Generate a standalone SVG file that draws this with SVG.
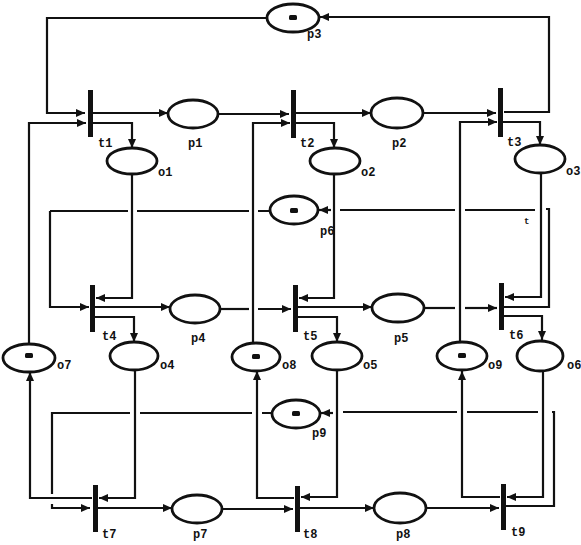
<svg xmlns="http://www.w3.org/2000/svg" width="581" height="545" viewBox="0 0 581 545">
<defs>
<marker id="ah" markerWidth="9" markerHeight="8" refX="9" refY="4" orient="auto" markerUnits="userSpaceOnUse"><path d="M0,0 L9,4 L0,8 Z" fill="#111"/></marker>
<style>
.pl{fill:#fff;stroke:#111;stroke-width:2.8}
.tr{fill:#111}
.tk{fill:#111}
.c path{fill:none;stroke:#111;stroke-width:2.2}
.a{marker-end:url(#ah)}
text{font-family:"Liberation Mono","DejaVu Sans Mono",monospace;font-weight:bold;font-size:12px;fill:#111}
</style>
</defs>
<rect width="581" height="545" fill="#fff"/>
<g id="connectors" class="c">
<path class="a" d="M267,18 H47 V113 H85"/>
<path class="a" d="M504,112 H549 V17 H320"/>
<path class="a" d="M93,113 H168"/>
<path class="a" d="M93,123 H132 V148"/>
<path class="a" d="M29,344 V123 H86"/>
<path class="a" d="M218,114 H289"/>
<path class="a" d="M253,343 V123 H290"/>
<path class="a" d="M296,113 H371"/>
<path class="a" d="M296,123 H334 V148"/>
<path class="a" d="M423,113 H496"/>
<path class="a" d="M460,342 V122 H497"/>
<path class="a" d="M503,122 H540 V145"/>
<path class="a" d="M132,174 V298 H96"/>
<path d="M270,211 H258 M249,211 H137 M128,211 H50"/>
<path class="a" d="M50,211 V307 H89"/>
<path class="a" d="M95,307 H170"/>
<path class="a" d="M95,317 H134 V342"/>
<path d="M220,309 H249"/>
<path class="a" d="M258,309 H291"/>
<path class="a" d="M334,174 V298 H299"/>
<path class="a" d="M298,307 H372"/>
<path class="a" d="M298,317 H337 V342"/>
<path d="M424,308 H455"/>
<path class="a" d="M465,308 H497"/>
<path class="a" d="M541,173 V297 H505"/>
<path d="M504,307 H549 V209 H546 M535,210 H465 M455,210 H340"/>
<path class="a" d="M331,210 H319"/>
<path class="a" d="M504,316 H542 V340"/>
<path d="M272,413 H262 M252,413 H140 M130,413 H52 V494"/>
<path class="a" d="M52,504 V508 H90"/>
<path class="a" d="M135,370 V498 H99"/>
<path class="a" d="M92,498 H30 V372"/>
<path class="a" d="M98,508 H172"/>
<path class="a" d="M294,498 H257 V371"/>
<path class="a" d="M222,509 H293"/>
<path class="a" d="M337,370 V497 H301"/>
<path class="a" d="M300,508 H374"/>
<path class="a" d="M426,508 H499"/>
<path class="a" d="M543,371 V497 H507"/>
<path class="a" d="M500,497 H462 V371"/>
<path d="M506,506 H554 V412 H552 M538,412 H467 M457,412 H343"/>
<path class="a" d="M333,413 H321"/>
</g>
<g id="t1"><rect class="tr" x="88" y="90" width="5" height="47"/><text x="98" y="147">t1</text></g>
<g id="t2"><rect class="tr" x="291" y="90" width="5" height="48"/><text x="300" y="147">t2</text></g>
<g id="t3"><rect class="tr" x="498" y="88" width="5" height="49"/><text x="507" y="146">t3</text></g>
<g id="t4"><rect class="tr" x="90" y="285" width="5" height="47"/><text x="102" y="340">t4</text></g>
<g id="t5"><rect class="tr" x="293" y="285" width="5" height="47"/><text x="303" y="340">t5</text></g>
<g id="t6"><rect class="tr" x="499" y="283" width="5" height="47"/><text x="509" y="339">t6</text></g>
<g id="t7"><rect class="tr" x="93" y="485" width="5" height="47"/><text x="102" y="538">t7</text></g>
<g id="t8"><rect class="tr" x="295" y="486" width="5" height="46"/><text x="303" y="538">t8</text></g>
<g id="t9"><rect class="tr" x="501" y="484" width="5" height="46"/><text x="511" y="536">t9</text></g>
<g id="p1"><ellipse class="pl" cx="193" cy="114" rx="25" ry="14"/><text x="188" y="147">p1</text></g>
<g id="p2"><ellipse class="pl" cx="397" cy="113" rx="26" ry="15"/><text x="392" y="147">p2</text></g>
<g id="p3"><ellipse class="pl" cx="293" cy="18" rx="26" ry="14"/><rect class="tk" x="289" y="15" width="8" height="5" rx="1.5"/><text x="307" y="38">p3</text></g>
<g id="o1"><ellipse class="pl" cx="132" cy="161" rx="25" ry="13"/><text x="158" y="176">o1</text></g>
<g id="o2"><ellipse class="pl" cx="335" cy="161" rx="25" ry="13"/><text x="361" y="176">o2</text></g>
<g id="o3"><ellipse class="pl" cx="540" cy="159" rx="25" ry="14"/><text x="566" y="175">o3</text></g>
<g id="p4"><ellipse class="pl" cx="195" cy="309" rx="25" ry="14"/><text x="191" y="342">p4</text></g>
<g id="p5"><ellipse class="pl" cx="398" cy="308" rx="26" ry="14"/><text x="394" y="342">p5</text></g>
<g id="p6"><ellipse class="pl" cx="294" cy="210" rx="24" ry="14"/><rect class="tk" x="290" y="208" width="8" height="5" rx="1.5"/><text x="320" y="235">p6</text><text x="524" y="224" style="font-size:9px">t</text></g>
<g id="o4"><ellipse class="pl" cx="134" cy="356" rx="24" ry="14"/><text x="160" y="369">o4</text></g>
<g id="o5"><ellipse class="pl" cx="337" cy="356" rx="25" ry="14"/><text x="363" y="369">o5</text></g>
<g id="o6"><ellipse class="pl" cx="540" cy="356" rx="23" ry="15"/><text x="567" y="369">o6</text></g>
<g id="o7"><ellipse class="pl" cx="29" cy="358" rx="26" ry="14"/><rect class="tk" x="25" y="353" width="8" height="5" rx="1.5"/><text x="57" y="369">o7</text></g>
<g id="o8"><ellipse class="pl" cx="256" cy="357" rx="24" ry="14"/><rect class="tk" x="252" y="354" width="8" height="5" rx="1.5"/><text x="282" y="369">o8</text></g>
<g id="o9"><ellipse class="pl" cx="462" cy="356" rx="25" ry="14"/><rect class="tk" x="458" y="353" width="8" height="5" rx="1.5"/><text x="488" y="369">o9</text></g>
<g id="p7"><ellipse class="pl" cx="197" cy="509" rx="25" ry="14"/><text x="193" y="538">p7</text></g>
<g id="p8"><ellipse class="pl" cx="400" cy="508" rx="26" ry="15"/><text x="396" y="538">p8</text></g>
<g id="p9"><ellipse class="pl" cx="296" cy="414" rx="24" ry="14"/><rect class="tk" x="292" y="411" width="8" height="5" rx="1.5"/><text x="312" y="437">p9</text></g>
</svg>
